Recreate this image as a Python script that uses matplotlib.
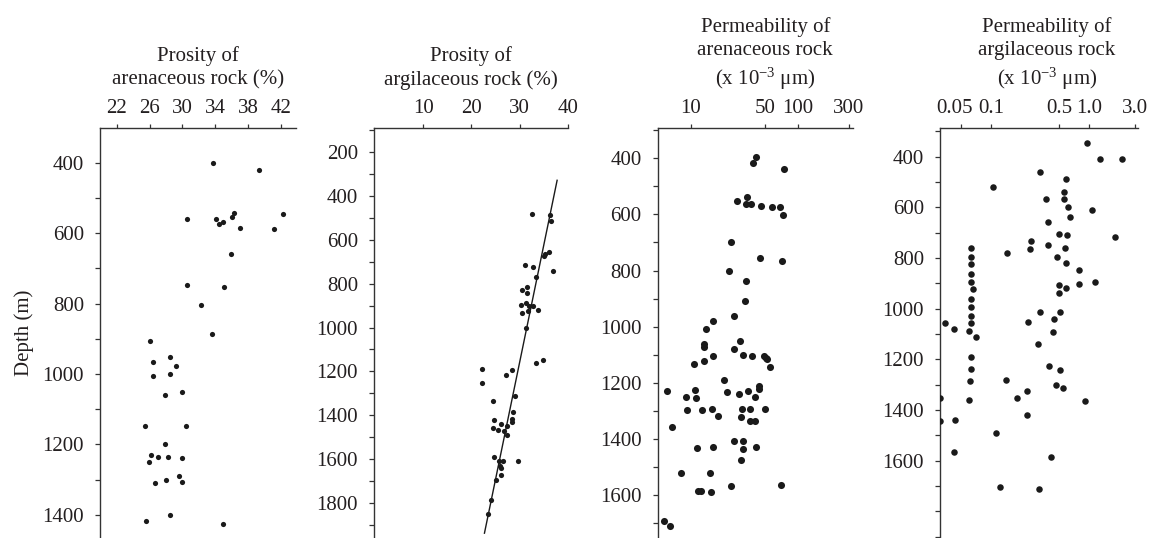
import matplotlib
matplotlib.use('Agg')
import matplotlib.pyplot as plt
import matplotlib.transforms as mtransforms
from matplotlib.ticker import FixedLocator, FixedFormatter, MultipleLocator, NullLocator

plt.rcParams['font.family'] = ['Liberation Serif', 'DejaVu Serif']
plt.rcParams['mathtext.fontset'] = 'custom'
plt.rcParams['mathtext.rm'] = 'Liberation Serif'
plt.rcParams['mathtext.it'] = 'Liberation Serif:italic'

# ---------------- data ----------------
# Panel 1: porosity of arenaceous rock (%) vs depth (m)
por_aren = [33.7, 39.35, 30.5, 34.1, 34.5, 35.0, 36.0, 36.3, 36.95, 41.2, 42.2, 35.9,
            30.5, 35.1, 32.3, 33.66, 26.1, 26.4, 28.5, 29.2, 26.4, 28.5, 27.85, 29.9,
            25.45, 30.4, 27.9, 26.2, 27.0, 28.3, 29.9, 25.95, 29.6, 28.0, 29.9, 26.7,
            28.5, 25.6, 34.9]
depth_por_aren = [400, 419, 559, 560, 575, 568, 553, 542, 586, 589, 544, 660,
                  746, 752, 803, 885, 906, 965, 952, 978, 1007, 1000, 1060, 1051,
                  1148, 1147, 1200, 1231, 1235, 1236, 1240, 1249, 1291, 1300, 1307, 1311,
                  1402, 1417, 1426]

# Panel 2: porosity of argilaceous rock (%) vs depth (m)
por_arg = [32.6, 36.4, 36.6, 35.3, 36.2, 35.1, 37.0, 31.1, 32.85, 33.5, 30.6, 31.6,
           31.5, 30.3, 31.3, 32.0, 32.85, 30.6, 31.8, 33.8, 31.3, 22.1, 22.1, 33.35,
           34.9, 28.4, 27.2, 29.0, 24.4, 28.6, 28.4, 28.4, 24.6, 26.1, 27.4, 24.5,
           25.6, 26.8, 27.3, 24.75, 25.7, 26.6, 29.7, 25.9, 26.1, 26.1, 25.2, 24.1, 23.4]
depth_por_arg = [485, 486, 515, 665, 655, 674, 744, 715, 726, 770, 829, 816,
                 844, 897, 889, 904, 901, 935, 924, 920, 1003, 1188, 1253, 1162,
                 1150, 1195, 1215, 1310, 1333, 1383, 1418, 1430, 1423, 1441, 1450, 1456,
                 1466, 1471, 1491, 1588, 1606, 1607, 1606, 1632, 1641, 1670, 1692, 1783, 1851]
# trend line (porosity, depth) end points
trend_por = [37.8, 22.7]
trend_depth = [330, 1936]

# Panel 3: permeability of arenaceous rock (x10^-3 um) vs depth (m)
perm_aren = [40.7, 38.0, 74.5, 27.3, 33.8, 33.1, 36.4, 45.1, 57.9, 68.4, 72.9, 23.8,
             44.5, 71.3, 22.8, 32.7, 32.0, 25.2, 16.1, 14.0, 28.7, 13.3, 13.3, 25.2,
             13.2, 16.3, 10.7, 31.0, 37.1, 48.4, 50.2, 52.0, 55.1, 20.5, 5.97, 11.0,
             11.1, 9.0, 21.7, 28.1, 34.1, 43.3, 43.5, 39.6, 9.3, 12.8, 15.9, 18.1,
             30.0, 35.8, 49.8, 29.7, 35.8, 40.0, 6.73, 25.6, 30.6, 30.6, 11.5, 16.3,
             40.7, 29.7, 8.1, 15.1, 23.9, 69.8, 11.8, 12.4, 15.5, 5.66, 6.41]
depth_perm_aren = [394, 418, 437, 551, 538, 563, 563, 570, 572, 572, 601, 697,
                   754, 766, 800, 838, 908, 961, 979, 1008, 1050, 1062, 1071, 1080,
                   1124, 1103, 1134, 1101, 1106, 1104, 1113, 1115, 1145, 1191, 1229, 1227,
                   1255, 1250, 1234, 1239, 1229, 1210, 1221, 1250, 1297, 1297, 1295, 1317,
                   1295, 1295, 1295, 1323, 1335, 1335, 1356, 1409, 1409, 1437, 1431, 1430,
                   1430, 1476, 1523, 1523, 1567, 1565, 1586, 1586, 1588, 1693, 1710]

# Panel 4: permeability of argilaceous rock (x10^-3 um) vs depth (m)
perm_arg = [0.954, 1.31, 2.17, 0.318, 0.582, 0.105, 0.560, 0.564, 0.364, 0.611, 1.08, 0.644,
            0.387, 0.494, 0.601, 1.87, 0.258, 0.254, 0.382, 0.573, 0.147, 0.479, 0.582, 0.802,
            0.797, 1.16, 0.497, 0.582, 0.501,
            0.0634, 0.0634, 0.0634, 0.0634, 0.0634, 0.0666, 0.0634, 0.0634, 0.0634, 0.0634, 0.0605,
            0.034, 0.0426, 0.240, 0.316, 0.509, 0.442, 0.0703, 0.430, 0.306, 0.0634, 0.0634,
            0.0615, 0.0605, 0.0304, 0.0304, 0.043, 0.0423, 0.143, 0.185, 0.233, 0.234, 0.396,
            0.513, 0.467, 0.551, 0.916, 0.113, 0.409, 0.124, 0.313]
depth_perm_arg = [347, 410, 410, 460, 488, 518, 538, 567, 568, 597, 612, 637,
                  659, 706, 710, 718, 733, 766, 750, 760, 781, 795, 821, 847,
                  901, 893, 905, 917, 937,
                  760, 795, 825, 865, 895, 923, 962, 995, 1028, 1056, 1088,
                  1055, 1080, 1054, 1013, 1013, 1040, 1111, 1091, 1139, 1190, 1238,
                  1285, 1360, 1353, 1442, 1440, 1565, 1282, 1351, 1326, 1421, 1225,
                  1242, 1302, 1313, 1365, 1491, 1587, 1703, 1712]

titles = ["Prosity of\narenaceous rock (%)",
          "Prosity of\nargilaceous rock (%)",
          "Permeability of\narenaceous rock\n(x 10$^{-3}$ \u03bcm)",
          "Permeability of\nargilaceous rock\n(x 10$^{-3}$ \u03bcm)"]
xticks = [[22, 26, 30, 34, 38, 42], [10, 20, 30, 40], [10, 50, 100, 300],
          [0.05, 0.1, 0.5, 1.0, 3.0]]
xticklabels = [["22", "26", "30", "34", "38", "42"], ["10", "20", "30", "40"],
               ["10", "50", "100", "300"], ["0.05", "0.1", "0.5", "1.0", "3.0"]]
yticks = [[400, 600, 800, 1000, 1200, 1400],
          [200, 400, 600, 800, 1000, 1200, 1400, 1600, 1800],
          [400, 600, 800, 1000, 1200, 1400, 1600],
          [400, 600, 800, 1000, 1200, 1400, 1600]]

# ---------------- layout ----------------
W, H = 1155, 538
fig = plt.figure(figsize=(W / 100, H / 100), dpi=100)
TEXT = '#231f20'
DOT = '#1a1a1a'

# (left px, right px, top px), xlim, ylim, log?, marker size, title x shift
specs = [
    ((100, 296, 128), (19.96, 43.83), (1466, 301), False, 14, 0.0),
    ((374, 568, 128), (-0.25, 40.06), (1958, 92), False, 14, 0.0),
    ((657.7, 853.3, 128), (4.92, 331), (1753, 292), True, 26, 0.05),
    ((940, 1138.3, 128), (0.0303, 3.21), (1905, 287), True, 22, 0.04),
]
xs = [por_aren, por_arg, perm_aren, perm_arg]
ys = [depth_por_aren, depth_por_arg, depth_perm_aren, depth_perm_arg]

for i, ((l, r, t), xl, yl, logx, ms, tshift) in enumerate(specs):
    ax = fig.add_axes([l / W, 0, (r - l) / W, 1 - t / H])
    if logx:
        ax.set_xscale('log')
    ax.scatter(xs[i], ys[i], s=ms, color=DOT, linewidths=0, zorder=3)
    if i == 1:
        ax.plot(trend_por, trend_depth, color='#1a1a1a', lw=1.0, zorder=2)
    ax.set_xlim(*xl)
    ax.set_ylim(*yl)
    ax.xaxis.tick_top()
    ax.xaxis.set_major_locator(FixedLocator(xticks[i]))
    ax.xaxis.set_major_formatter(FixedFormatter(xticklabels[i]))
    ax.xaxis.set_minor_locator(NullLocator())
    ax.yaxis.set_major_locator(FixedLocator(yticks[i]))
    ax.yaxis.set_minor_locator(MultipleLocator(100))
    for s in ('bottom', 'right'):
        ax.spines[s].set_visible(False)
    for s in ('top', 'left'):
        ax.spines[s].set_linewidth(1.0)
        ax.spines[s].set_color('#333333')
    ax.tick_params(axis='x', which='both', direction='out', length=3, width=0.9,
                   pad=4.5, labelsize=15, colors='#333333', labelcolor=TEXT)
    ax.tick_params(axis='y', which='both', direction='out', length=3.5, width=0.9,
                   pad=8, labelsize=15, colors='#333333', labelcolor=TEXT)
    ax.set_title(titles[i], fontsize=15, linespacing=1.3, color=TEXT,
                 x=0.5 + tshift, pad=10)
    ax.patch.set_alpha(0)
    if i == 0:
        ax.set_ylabel("Depth (m)", fontsize=15, color=TEXT, labelpad=6)
    if i == 3:
        # nudge the crowded first label left, as in the original
        lab = ax.xaxis.get_major_ticks()[0].label2
        lab.set_transform(lab.get_transform() +
                          mtransforms.ScaledTranslation(-7 / 100, 0, fig.dpi_scale_trans))

fig.savefig('out.png', dpi=100)
